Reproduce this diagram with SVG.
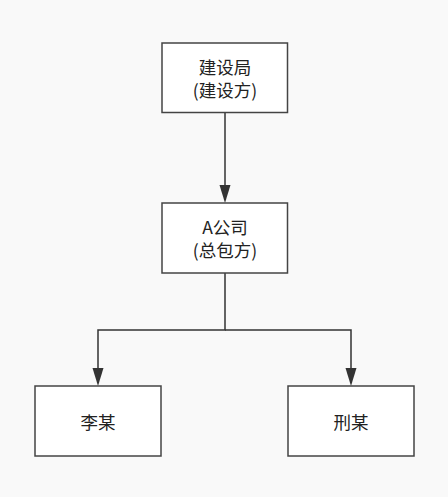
<svg xmlns="http://www.w3.org/2000/svg" width="448" height="497" viewBox="0 0 448 497">
<style>
.node rect{fill:#ffffff;stroke:#444444;stroke-width:1.5}
.node text{font-family:"Noto Sans CJK SC","Liberation Sans",sans-serif;font-size:17.5px;fill:#222222;text-anchor:middle}
.edge{fill:none;stroke:#333333;stroke-width:1.5}
</style>
<rect width="448" height="497" fill="#f9f9f9"/>
<g id="connectors">
<path class="edge" d="M225,112 L225,185"/>
<path d="M219.5,185 L230.5,185 L225,203 Z" fill="#333333"/>
<path class="edge" d="M225,273 L225,330 L98,330 L98,368"/>
<path d="M92.5,368 L103.5,368 L98,386 Z" fill="#333333"/>
<path class="edge" d="M225,330 L351,330 L351,368"/>
<path d="M345.5,368 L356.5,368 L351,386 Z" fill="#333333"/>
</g>
<g id="node-jsj" class="node">
<rect x="162" y="43" width="125.5" height="69.5"/>
<text x="225" y="74">建设局</text>
<text x="225" y="97">(建设方)</text>
</g>
<g id="node-a" class="node">
<rect x="162" y="203" width="125.5" height="70"/>
<text x="225" y="234">A公司</text>
<text x="225" y="257">(总包方)</text>
</g>
<g id="node-li" class="node">
<rect x="35" y="386" width="126" height="70"/>
<text x="98" y="429">李某</text>
</g>
<g id="node-xing" class="node">
<rect x="288" y="386" width="126" height="70"/>
<text x="351" y="429">刑某</text>
</g>
</svg>
